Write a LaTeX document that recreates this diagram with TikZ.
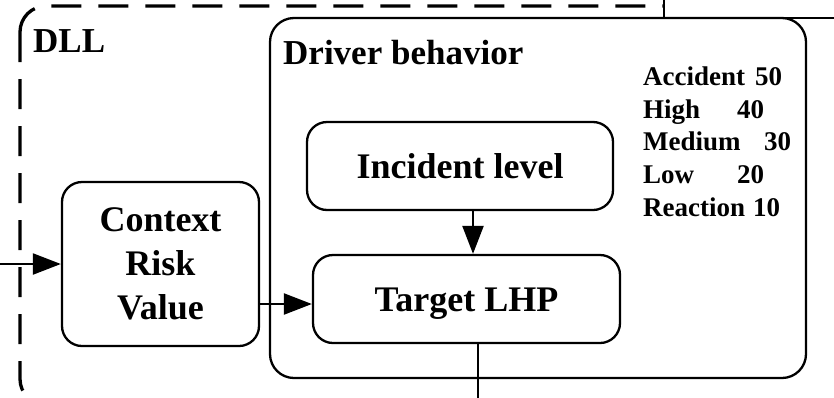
\documentclass[tikz,border=0pt]{standalone}
\usepackage{fontspec}
\setmainfont{Liberation Serif}
\usetikzlibrary{arrows.meta}
\newcommand{\boxfont}{\fontsize{36}{44}\selectfont\bfseries}
\newcommand{\headfont}{\fontsize{35}{42}\selectfont\bfseries}
\newcommand{\listfont}{\fontsize{27}{33}\selectfont\bfseries}

\begin{document}
\begin{tikzpicture}[x=1pt, y=-1pt, line join=round,
	stage/.style={draw, line width=2.3pt, rounded corners=20pt, font=\boxfont, align=center, inner sep=0pt},
	group/.style={draw, line width=2.3pt, rounded corners=24pt, inner sep=0pt},
	title/.style={anchor=base west, inner sep=0pt, font=\headfont},
	item/.style={anchor=base west, inner sep=0pt, font=\listfont},
	flow/.style={line width=2.3pt, -{Triangle[length=28pt, width=21pt]}},
	wire/.style={line width=2.3pt},
	dllframe/.style={line width=3.3pt, dash pattern=on 30pt off 17pt, rounded corners=26pt}]
	
	\useasboundingbox (0,0) rectangle (834,397);
	\begin{scope}
		\clip (0,0) rectangle (834,397);
		
		% --- 1. Outer DLL frame (dashed) ---
		\draw[dllframe] (20,6) rectangle (880,405);
		\draw[wire, fill=white] (664,-10) rectangle (850,18);
		\node[title] (dll) at (33,52) {DLL};
		
		% --- 2. Driver behavior group ---
		\node[group, minimum width=536pt, minimum height=360pt] (drv) at (538,198) {};
		\node[title] (drvtitle) at (283,64) {Driver behavior};
		
		% --- 3. Blocks ---
		\node[stage, minimum width=197pt, minimum height=164pt] (ctx) at (160.5,264) {Context\\Risk\\Value};
		\node[stage, minimum width=306pt, minimum height=88pt, text height=24.5pt, text depth=0pt] (inc) at (460,166) {Incident level};
		\node[stage, minimum width=307pt, minimum height=88pt, text height=24.5pt, text depth=0pt] (tgt) at (466.5,299) {Target LHP};
		
		% --- 4. Levels ---
		\foreach \lvl/\pts/\px/\py [count=\i] in {Accident/50/755/85, High/40/737/118, Medium/30/764/150.5, Low/20/737/183, Reaction/10/753/216} {
			\node[item] (lvl\i) at (643,\py) {\lvl};
			\node[item] (pts\i) at (\px,\py) {\pts};
		}
		
		% --- 5. Connectors ---
		\coordinate (in) at (0,264);
		\coordinate (out) at (478,405);
		\draw[flow] (in) -- (ctx.west);
		\draw[flow] ([yshift=-5pt]tgt.west -| ctx.east) -- ([yshift=-5pt]tgt.west);
		\draw[flow] ([xshift=13pt]inc.south) -- ([xshift=13pt]inc.south |- tgt.north);
		\draw[wire] (out -| 478,0) -- (tgt.south -| out);
	\end{scope}
	
\end{tikzpicture}
\end{document}
